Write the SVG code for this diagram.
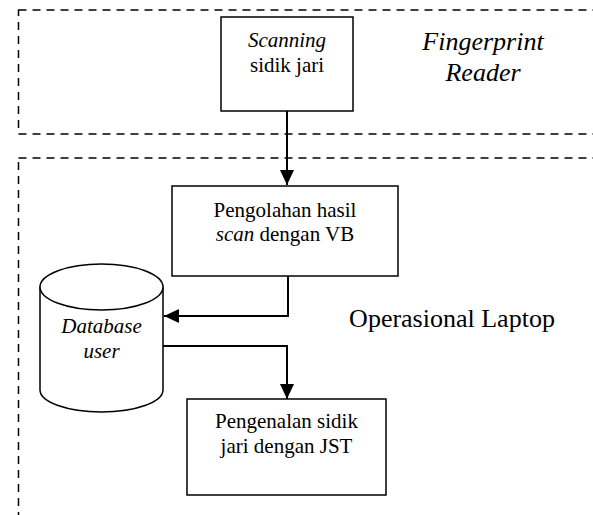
<svg xmlns="http://www.w3.org/2000/svg" width="593" height="515" viewBox="0 0 593 515">
<style>
.region{fill:none;stroke:#000;stroke-width:1.5;stroke-dasharray:8 6}
.box{fill:#fff;stroke:#000;stroke-width:1.5}
.conn{fill:none;stroke:#000;stroke-width:2}
.t{font-family:"Liberation Serif","Times New Roman",serif;font-size:21px;fill:#000;text-anchor:middle}
.big{font-size:26px}
.i{font-style:italic}
</style>
<defs>
<marker id="arr" markerUnits="userSpaceOnUse" markerWidth="15" markerHeight="14" refX="15" refY="7" orient="auto">
<path d="M0,0 L15,7 L0,14 z" fill="#000"/>
</marker>
</defs>
<g id="fingerprint-reader">
<rect class="region" x="18.5" y="10" width="600" height="124"/>
<text class="t big i" x="483" y="50">Fingerprint</text>
<text class="t big i" x="483" y="81">Reader</text>
</g>
<g id="operasional-laptop">
<rect class="region" x="18.5" y="158" width="600" height="400"/>
<text class="t big" x="452" y="327">Operasional Laptop</text>
</g>
<g id="connectors">
<line class="conn" x1="287" y1="111" x2="287" y2="185" marker-end="url(#arr)"/>
<polyline class="conn" points="288,276 288,316 164,316" marker-end="url(#arr)"/>
<polyline class="conn" points="163,346 287,346 287,399" marker-end="url(#arr)"/>
</g>
<g id="scanning">
<rect class="box" x="221" y="17" width="132" height="94"/>
<text class="t i" x="287" y="47">Scanning</text>
<text class="t" x="287" y="72">sidik jari</text>
</g>
<g id="pengolahan">
<rect class="box" x="172" y="186" width="226" height="90"/>
<text class="t" x="285" y="217">Pengolahan hasil</text>
<text class="t" x="285" y="241"><tspan class="i">scan</tspan> dengan VB</text>
</g>
<g id="database">
<path class="box" d="M40,287 L40,390 A61.5,22 0 0 0 163,390 L163,287"/>
<ellipse class="box" cx="101.5" cy="287" rx="61.5" ry="23"/>
<text class="t i" x="101.5" y="333">Database</text>
<text class="t i" x="101.5" y="358">user</text>
</g>
<g id="pengenalan">
<rect class="box" x="187" y="399" width="199" height="96"/>
<text class="t" x="286.5" y="428">Pengenalan sidik</text>
<text class="t" x="286.5" y="453">jari dengan JST</text>
</g>
</svg>
